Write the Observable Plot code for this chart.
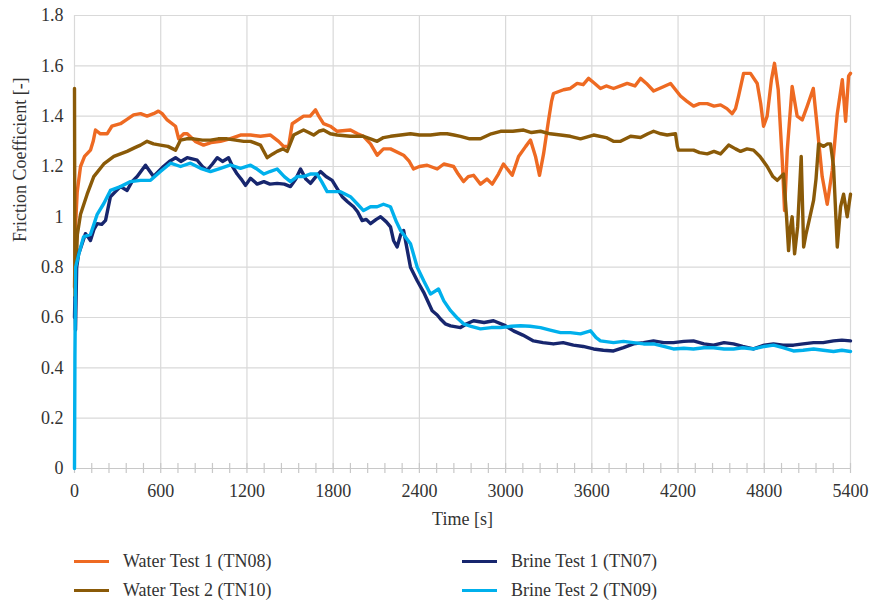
<!DOCTYPE html>
<html><head><meta charset="utf-8">
<script src="https://cdn.jsdelivr.net/npm/d3@7"></script>
<script src="https://cdn.jsdelivr.net/npm/@observablehq/plot@0.6"></script>
<style>
body{margin:0;background:#fff;font-family:"Liberation Serif","Times New Roman",Times,"DejaVu Serif","Noto Serif",serif;}
#wrap{position:relative;width:870px;height:603px;overflow:hidden;}
.leg{position:absolute;font-size:18px;color:#333;height:24px;line-height:24px;white-space:nowrap;}
.leg .sw{position:absolute;left:0;top:11px;width:35px;height:3px;}
.leg .tx{position:absolute;left:49px;top:0;}
</style></head>
<body><div id="wrap"></div>
<script>
const FONT = '"Liberation Serif","Times New Roman",Times,"DejaVu Serif","Noto Serif",serif';
const seriesNames = ["Water Test 1 (TN08)", "Water Test 2 (TN10)", "Brine Test 1 (TN07)", "Brine Test 2 (TN09)"];
const seriesColors = ["#EE6A22", "#8A5A08", "#17266E", "#00B0EC"];
const xTicks = [0, 600, 1200, 1800, 2400, 3000, 3600, 4200, 4800, 5400];
const xMinorTicks = d3.range(0, 5401, 120);
const yTicks = [0, 0.2, 0.4, 0.6, 0.8, 1, 1.2, 1.4, 1.6, 1.8];
const yTickLabels = ["0", "0.2", "0.4", "0.6", "0.8", "1", "1.2", "1.4", "1.6", "1.8"];

const water1 = [[0,0.72],[6,0.95],[19,1.10],[42,1.20],[70,1.24],[111,1.265],[130,1.30],[146,1.345],[180,1.33],[227,1.33],[260,1.36],[320,1.37],[360,1.385],[411,1.405],[460,1.41],[505,1.40],[550,1.41],[584,1.42],[610,1.41],[645,1.385],[703,1.36],[725,1.31],[760,1.33],[784,1.33],[840,1.30],[898,1.285],[950,1.295],[1016,1.30],[1080,1.31],[1155,1.325],[1225,1.325],[1294,1.32],[1364,1.325],[1420,1.30],[1455,1.28],[1490,1.28],[1515,1.37],[1594,1.40],[1640,1.40],[1677,1.425],[1700,1.40],[1733,1.37],[1780,1.36],[1828,1.34],[1920,1.345],[1970,1.33],[2011,1.32],[2060,1.29],[2106,1.245],[2150,1.27],[2199,1.27],[2290,1.245],[2330,1.22],[2359,1.19],[2400,1.20],[2454,1.205],[2524,1.19],[2570,1.21],[2638,1.20],[2670,1.17],[2707,1.14],[2740,1.16],[2777,1.165],[2825,1.13],[2870,1.15],[2907,1.13],[2950,1.17],[2985,1.21],[3046,1.165],[3090,1.24],[3140,1.28],[3173,1.305],[3208,1.24],[3236,1.165],[3264,1.25],[3299,1.385],[3320,1.46],[3333,1.49],[3403,1.505],[3450,1.51],[3498,1.53],[3540,1.525],[3577,1.55],[3620,1.53],[3660,1.51],[3700,1.52],[3751,1.51],[3800,1.52],[3846,1.53],[3900,1.52],[3939,1.55],[3980,1.53],[4030,1.50],[4090,1.515],[4148,1.53],[4217,1.48],[4260,1.46],[4308,1.44],[4350,1.45],[4403,1.45],[4450,1.44],[4496,1.445],[4540,1.43],[4577,1.41],[4600,1.43],[4621,1.48],[4656,1.57],[4704,1.57],[4751,1.53],[4775,1.45],[4795,1.36],[4820,1.40],[4850,1.545],[4871,1.61],[4897,1.505],[4925,1.225],[4941,1.025],[4960,1.265],[4994,1.518],[5029,1.40],[5064,1.385],[5099,1.44],[5141,1.51],[5168,1.36],[5203,1.16],[5238,1.05],[5273,1.185],[5308,1.41],[5343,1.545],[5366,1.38],[5387,1.56],[5400,1.57]];

const water2 = [[0,1.51],[3,0.68],[20,0.93],[42,1.01],[88,1.09],[134,1.16],[204,1.21],[274,1.24],[320,1.25],[366,1.26],[420,1.275],[459,1.285],[505,1.30],[550,1.29],[598,1.285],[650,1.28],[703,1.265],[738,1.305],[780,1.31],[829,1.31],[890,1.305],[946,1.305],[1000,1.31],[1062,1.31],[1120,1.305],[1178,1.30],[1225,1.30],[1294,1.285],[1341,1.235],[1380,1.25],[1410,1.26],[1450,1.27],[1480,1.26],[1525,1.325],[1594,1.345],[1630,1.335],[1664,1.325],[1700,1.34],[1733,1.345],[1780,1.33],[1828,1.325],[1920,1.32],[2011,1.32],[2060,1.31],[2106,1.30],[2150,1.315],[2199,1.32],[2270,1.325],[2338,1.33],[2400,1.325],[2477,1.325],[2547,1.33],[2593,1.33],[2640,1.325],[2686,1.32],[2750,1.31],[2825,1.31],[2900,1.33],[2965,1.34],[3050,1.34],[3125,1.345],[3180,1.335],[3243,1.34],[3310,1.33],[3382,1.325],[3450,1.32],[3521,1.31],[3612,1.325],[3700,1.315],[3750,1.30],[3800,1.30],[3870,1.32],[3939,1.315],[3990,1.33],[4030,1.34],[4080,1.33],[4124,1.325],[4182,1.33],[4195,1.28],[4203,1.265],[4260,1.265],[4308,1.265],[4350,1.255],[4403,1.25],[4450,1.26],[4496,1.25],[4552,1.285],[4600,1.27],[4635,1.26],[4680,1.27],[4725,1.265],[4770,1.24],[4820,1.20],[4860,1.16],[4890,1.145],[4934,1.17],[4955,1.0],[4969,0.866],[4980,0.95],[4994,1.0],[5011,0.853],[5032,0.96],[5057,1.24],[5074,0.88],[5090,0.93],[5108,0.975],[5143,1.065],[5160,1.15],[5178,1.29],[5213,1.28],[5240,1.29],[5261,1.29],[5282,1.20],[5308,0.88],[5331,1.04],[5352,1.09],[5377,1.0],[5400,1.09]];

const brine1 = [[0,0.60],[3,0.68],[7,0.55],[15,0.80],[29,0.853],[53,0.893],[76,0.933],[95,0.92],[111,0.906],[135,0.95],[158,0.973],[190,0.97],[216,0.986],[250,1.08],[285,1.10],[320,1.12],[366,1.105],[400,1.14],[436,1.16],[494,1.205],[550,1.16],[619,1.20],[660,1.22],[703,1.235],[740,1.22],[784,1.235],[854,1.225],[890,1.20],[923,1.185],[960,1.21],[993,1.235],[1030,1.22],[1072,1.235],[1100,1.20],[1132,1.17],[1160,1.15],[1190,1.125],[1225,1.153],[1271,1.13],[1318,1.14],[1360,1.13],[1410,1.133],[1460,1.13],[1503,1.12],[1540,1.15],[1573,1.19],[1610,1.15],[1642,1.133],[1680,1.16],[1712,1.18],[1750,1.16],[1793,1.145],[1830,1.11],[1863,1.08],[1900,1.06],[1942,1.04],[1970,1.02],[2002,0.985],[2030,0.99],[2060,0.973],[2100,0.99],[2130,1.0],[2170,0.98],[2199,0.96],[2220,0.906],[2245,0.88],[2270,0.93],[2290,0.946],[2338,0.80],[2385,0.746],[2430,0.70],[2489,0.627],[2524,0.61],[2547,0.594],[2580,0.575],[2617,0.567],[2686,0.56],[2730,0.575],[2777,0.587],[2850,0.58],[2916,0.587],[2990,0.57],[3055,0.547],[3120,0.53],[3194,0.507],[3260,0.50],[3333,0.495],[3400,0.50],[3472,0.49],[3540,0.485],[3612,0.475],[3680,0.47],[3751,0.467],[3820,0.48],[3890,0.495],[3960,0.50],[4029,0.507],[4100,0.50],[4168,0.50],[4240,0.505],[4307,0.507],[4380,0.495],[4447,0.49],[4520,0.50],[4586,0.495],[4650,0.485],[4725,0.475],[4800,0.49],[4864,0.495],[4930,0.49],[5003,0.49],[5070,0.495],[5143,0.50],[5210,0.50],[5282,0.507],[5340,0.51],[5400,0.507]];

const brine2 = [[0,0],[3,0.45],[8,0.80],[29,0.85],[63,0.92],[111,0.93],[135,0.97],[158,1.01],[204,1.053],[250,1.105],[320,1.12],[390,1.14],[459,1.145],[529,1.145],[598,1.18],[668,1.213],[738,1.20],[807,1.213],[877,1.193],[946,1.18],[1016,1.193],[1086,1.206],[1155,1.193],[1225,1.205],[1270,1.19],[1318,1.17],[1360,1.18],[1410,1.19],[1460,1.16],[1503,1.14],[1550,1.16],[1594,1.16],[1640,1.17],[1688,1.17],[1720,1.14],[1758,1.10],[1800,1.10],[1851,1.10],[1920,1.08],[1970,1.05],[2011,1.025],[2060,1.04],[2106,1.04],[2150,1.05],[2199,1.04],[2240,0.98],[2269,0.946],[2338,0.893],[2385,0.80],[2430,0.746],[2477,0.693],[2533,0.713],[2570,0.666],[2617,0.627],[2660,0.60],[2707,0.575],[2760,0.565],[2825,0.555],[2900,0.56],[2965,0.56],[3040,0.565],[3104,0.567],[3170,0.565],[3243,0.56],[3310,0.55],[3382,0.54],[3450,0.54],[3521,0.535],[3591,0.547],[3630,0.52],[3660,0.507],[3751,0.50],[3820,0.505],[3890,0.50],[3960,0.495],[4029,0.495],[4100,0.485],[4168,0.475],[4240,0.478],[4307,0.475],[4380,0.48],[4447,0.48],[4520,0.475],[4586,0.475],[4650,0.48],[4725,0.475],[4800,0.485],[4864,0.49],[4930,0.48],[5003,0.467],[5070,0.47],[5143,0.475],[5210,0.47],[5282,0.465],[5340,0.47],[5400,0.465]];

const allSeries = [water1, water2, brine1, brine2];
const data = allSeries.flatMap((s, i) => s.map(([t, f]) => ({t, f, series: seriesNames[i]})));

const plot = Plot.plot({
  width: 870, height: 540,
  marginLeft: 74, marginRight: 20, marginTop: 15, marginBottom: 72,
  style: {fontFamily: FONT, fontSize: "18px", color: "#333", background: "white", overflow: "visible"},
  x: {domain: [0, 5400], label: null},
  y: {domain: [0, 1.8], label: null},
  color: {domain: seriesNames, range: seriesColors},
  marks: [
    Plot.gridX(xTicks, {stroke: "#d9d9d9", strokeOpacity: 1, strokeWidth: 1.2}),
    Plot.gridY(yTicks, {stroke: "#d9d9d9", strokeOpacity: 1, strokeWidth: 1.2}),
    Plot.ruleX(xMinorTicks, {y1: 0, y2: 0.04, dy: 5, stroke: "#c8c8c8", strokeWidth: 1.2}),
    Plot.ruleY([0], {stroke: "#c8c8c8", strokeWidth: 1.2}),
    Plot.axisX(xTicks, {tickSize: 0, tickPadding: 16, fontSize: 18, fontFamily: FONT, tickFormat: d => String(d), label: null}),
    Plot.axisY(yTicks, {tickSize: 0, tickPadding: 11, fontSize: 18, fontFamily: FONT, tickFormat: (d, i) => yTickLabels[i], label: null}),
    Plot.line(data, {x: "t", y: "f", z: "series", stroke: "series", strokeWidth: 3.4, strokeLinejoin: "round", curve: "linear"}),
    Plot.text(["Time [s]"], {frameAnchor: "bottom", dy: 56, fontSize: 18, fontFamily: FONT, fill: "#333"}),
    Plot.text(["Friction Coefficient [-]"], {frameAnchor: "left", dx: -54, rotate: -90, fontSize: 18, fontFamily: FONT, fill: "#333"})
  ]
});
document.getElementById("wrap").appendChild(plot);

const legendPos = [[74, 549], [74, 578], [462, 549], [462, 578]];
seriesNames.forEach((name, i) => {
  const d = document.createElement("div");
  d.className = "leg";
  d.style.left = legendPos[i][0] + "px";
  d.style.top = legendPos[i][1] + "px";
  d.innerHTML = `<span class="sw" style="background:${seriesColors[i]}"></span><span class="tx">${name}</span>`;
  document.getElementById("wrap").appendChild(d);
});
</script></body></html>
